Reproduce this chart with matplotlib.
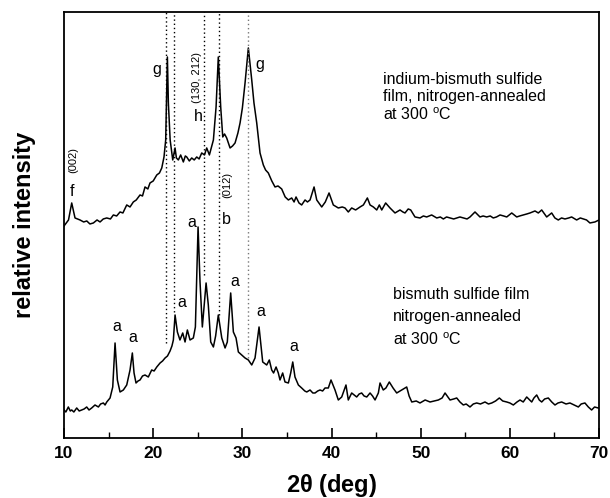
import numpy as np
import matplotlib
matplotlib.use('Agg')
import matplotlib.pyplot as plt
from matplotlib.ticker import MultipleLocator

plt.rcParams['font.family'] = 'Liberation Sans'
plt.rcParams['mathtext.default'] = 'regular'

### indium-bismuth sulfide film (upper trace) ###
top_tt = [10.0, 10.5, 10.86, 11.23, 11.79, 12.2, 12.55, 12.9, 13.29, 13.7, 14.04, 14.4, 14.79, 15.2,
          15.53, 15.9, 16.28, 16.6, 17.03, 17.4, 17.77, 18.1, 18.52, 18.8, 19.08, 19.4, 19.64, 20.0,
          20.4, 20.7, 20.96, 21.21, 21.4, 21.5, 21.59, 21.7, 21.9, 22.19, 22.45, 22.6, 22.82, 23.08,
          23.38, 23.6, 23.76, 24.05, 24.32, 24.6, 24.88, 25.15, 25.44, 25.75, 26.0, 26.3, 26.75, 27.05,
          27.3, 27.57, 27.8, 28.0, 28.24, 28.62, 28.9, 29.18, 29.5, 29.74, 30.0, 30.3, 30.67, 31.05,
          31.3, 31.61, 31.98, 32.35, 32.6, 32.91, 33.1, 33.3, 33.66, 34.0, 34.41, 34.8, 35.16, 35.53,
          35.8, 36.02, 36.35, 36.65, 37.03, 37.3, 37.59, 38.04, 38.34, 38.9, 39.3, 39.72, 40.2, 40.76,
          41.2, 41.51, 41.88, 42.26, 42.7, 43.2, 43.57, 44.02, 44.32, 44.69, 45.07, 45.36, 45.63, 46.07,
          46.56, 47.12, 47.68, 48.0, 48.24, 48.6, 48.88, 49.36, 49.92, 50.3, 50.67, 51.23, 51.8, 52.2,
          52.54, 52.9, 53.29, 53.7, 54.04, 54.4, 54.78, 55.2, 55.53, 56.09, 56.65, 57.0, 57.4, 57.8,
          58.14, 58.5, 58.9, 59.3, 59.65, 60.21, 60.77, 61.1, 61.51, 61.9, 62.26, 62.82, 63.19, 63.57,
          64.13, 64.69, 65.05, 65.43, 65.8, 66.18, 66.6, 66.93, 67.49, 67.9, 68.24, 68.6, 68.98, 69.54,
          70.0]
top_int = [212, 218, 235, 220, 218, 216, 217, 214, 215, 218, 216, 219, 220, 219,
           223, 222, 226, 225, 233, 231, 236, 238, 243, 242, 251, 249, 255, 257,
           263, 265, 270, 281, 298, 340, 381, 335, 298, 278, 290, 280, 278, 283,
           276, 282, 281, 277, 280, 278, 281, 279, 285, 283, 290, 283, 298, 331,
           381, 331, 301, 304, 300, 290, 292, 295, 305, 315, 330, 355, 390, 358,
           335, 315, 285, 273, 268, 265, 261, 257, 251, 252, 249, 241, 238, 240,
           236, 241, 235, 233, 238, 236, 238, 251, 238, 231, 236, 245, 233, 230,
           231, 230, 226, 230, 228, 231, 233, 240, 233, 231, 228, 233, 228, 235,
           230, 225, 228, 226, 225, 229, 228, 221, 220, 222, 221, 223, 220, 221,
           219, 221, 220, 219, 220, 221, 220, 219, 221, 226, 221, 222, 221, 222,
           220, 221, 223, 222, 221, 225, 221, 222, 223, 224, 225, 227, 225, 228,
           221, 225, 220, 218, 220, 219, 220, 221, 218, 220, 219, 218, 215, 216,
           218]

### bismuth sulfide film (lower trace) ###
bot_tt = [10.0, 10.2, 10.48, 10.7, 10.86, 11.1, 11.42, 11.7, 11.98, 12.25, 12.54, 12.8, 13.1, 13.47,
          13.85, 14.1, 14.41, 14.6, 14.79, 15.16, 15.46, 15.72, 15.98, 16.28, 16.65, 17.03, 17.4, 17.66,
          17.85, 18.07, 18.3, 18.52, 18.8, 19.08, 19.45, 19.83, 20.1, 20.4, 20.77, 21.05, 21.33, 21.6,
          21.89, 22.1, 22.26, 22.45, 22.71, 23.0, 23.31, 23.57, 23.83, 24.13, 24.5, 24.73, 25.03, 25.25,
          25.51, 25.93, 26.18, 26.45, 26.75, 27.0, 27.3, 27.69, 28.06, 28.31, 28.69, 28.99, 29.29, 29.55,
          29.93, 30.3, 30.67, 31.05, 31.42, 31.87, 32.28, 32.73, 33.02, 33.29, 33.5, 33.78, 34.03, 34.22,
          34.52, 34.78, 35.16, 35.42, 35.65, 35.9, 36.28, 36.65, 37.0, 37.22, 37.59, 37.9, 38.15, 38.45,
          38.71, 39.0, 39.27, 39.64, 39.94, 40.39, 40.76, 41.14, 41.62, 41.88, 42.26, 42.55, 42.82, 43.1,
          43.38, 43.65, 43.95, 44.32, 44.6, 44.88, 45.25, 45.44, 45.8, 46.1, 46.48, 46.9, 47.31, 47.87,
          48.43, 48.7, 49.0, 49.5, 49.92, 50.5, 51.05, 51.5, 51.98, 52.4, 52.73, 53.29, 53.7, 54.04,
          54.4, 54.78, 55.1, 55.53, 55.9, 56.28, 56.7, 57.21, 57.6, 57.97, 58.4, 58.82, 59.2, 59.65,
          60.0, 60.39, 60.8, 61.14, 61.5, 61.89, 62.45, 62.7, 63.01, 63.3, 63.57, 63.9, 64.31, 64.7,
          65.06, 65.4, 65.81, 66.3, 66.74, 67.2, 67.68, 68.0, 68.42, 68.8, 69.17, 69.5, 69.91]
bot_int = [28, 26, 31, 27, 28, 26, 30, 27, 28, 29, 31, 28, 30, 33,
           31, 34, 35, 33, 36, 40, 51, 95, 58, 46, 48, 53, 68, 85,
           65, 55, 57, 58, 62, 63, 61, 68, 67, 71, 75, 77, 80, 82,
           87, 92, 98, 123, 106, 98, 105, 96, 108, 98, 100, 111, 211, 156,
           111, 155, 133, 96, 91, 102, 123, 100, 90, 96, 145, 106, 100, 86,
           83, 80, 78, 73, 80, 111, 76, 73, 78, 68, 65, 71, 65, 58,
           65, 56, 55, 65, 76, 61, 53, 50, 47, 46, 48, 45, 45, 47,
           48, 47, 50, 50, 58, 48, 38, 41, 53, 38, 45, 43, 41, 44,
           45, 42, 41, 45, 42, 38, 45, 55, 48, 50, 56, 50, 45, 48,
           51, 42, 36, 37, 35, 38, 36, 37, 38, 40, 45, 38, 39, 40,
           36, 33, 34, 31, 34, 35, 34, 36, 34, 35, 37, 40, 37, 36,
           35, 33, 36, 38, 36, 41, 36, 40, 43, 38, 36, 39, 40, 36,
           33, 35, 36, 34, 35, 33, 31, 34, 35, 31, 28, 31, 30]

### dotted reference lines (2theta, lower end) ###
ref_tt = [21.43, 22.37, 25.73, 27.38, 30.63]
ref_low = [95, 126, 163, 123, 80]
ref_col = ['black', 'black', 'black', 'black', '#777777']

### peak labels ###
lab_txt = ['f', 'g', 'h', 'g', 'b', 'a', 'a', 'a', 'a', 'a', 'a', 'a']
lab_x = [10.86, 20.4, 25.06, 31.98, 28.25, 15.9, 17.7, 23.2, 24.32, 29.18, 32.09, 35.8]
lab_y = [246, 368, 321, 373, 218, 111, 100, 135, 215, 156, 126, 91]

hkl_txt = ['(002)', '(130, 212)', '(012)']
hkl_x = [11.04, 24.88, 28.25]
hkl_y = [278, 360, 253]

fig = plt.figure(figsize=(6.1, 4.98), dpi=100)
ax = fig.add_axes([0.105, 0.1205, 0.877, 0.8555])

ax.plot(top_tt, top_int, color='black', lw=1.1)
ax.plot(bot_tt, bot_int, color='black', lw=1.1)

for i in range(len(ref_tt)):
	ax.vlines(ref_tt[i], ref_low[i], 426, colors=ref_col[i], linestyles=(0, (1, 2)), lw=1.0)

for i in range(len(lab_txt)):
	ax.text(lab_x[i], lab_y[i], lab_txt[i], fontsize=11.5, ha='center', va='center')

for i in range(len(hkl_txt)):
	ax.text(hkl_x[i], hkl_y[i], hkl_txt[i], fontsize=8, rotation=90, ha='center', va='center')

top_lines = ['indium-bismuth sulfide', 'film, nitrogen-annealed', r'at 300 $^{o}$C']
top_ly = [358, 341, 323]
for i in range(3):
	ax.text(45.8, top_ly[i], top_lines[i], fontsize=11.5, ha='left', va='center')

bot_lines = ['bismuth sulfide film', 'nitrogen-annealed', r'at 300 $^{o}$C']
bot_ly = [143, 121, 98]
for i in range(3):
	ax.text(46.93, bot_ly[i], bot_lines[i], fontsize=11.5, ha='left', va='center')

ax.set_xlim(10, 70)
ax.set_ylim(0, 426)
ax.xaxis.set_major_locator(MultipleLocator(10))
ax.xaxis.set_minor_locator(MultipleLocator(5))
ax.tick_params(axis='x', which='major', direction='in', length=7, width=1.2, top=False, labelsize=12.5, pad=6)
ax.tick_params(axis='x', which='minor', direction='in', length=4, width=1.0, top=False)
ax.tick_params(axis='y', left=False, labelleft=False)
for lab in ax.get_xticklabels():
	lab.set_fontweight('bold')
for sp in ax.spines.values():
	sp.set_linewidth(1.3)

ax.set_xlabel(r'2$\theta$ (deg)', fontsize=17, fontweight='bold', labelpad=8)
ax.set_ylabel('relative intensity', fontsize=17, fontweight='bold', labelpad=20)

fig.savefig('out.png', dpi=100)
